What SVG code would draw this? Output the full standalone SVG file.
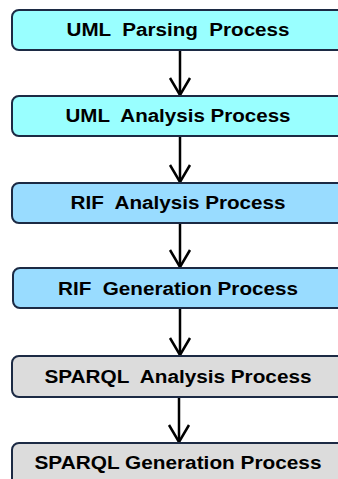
<svg xmlns="http://www.w3.org/2000/svg" width="338" height="479" viewBox="0 0 338 479">
<defs>
<style>
.box{stroke:#1c2a44;stroke-width:2}
.c{fill:#99ffff}
.b{fill:#99dcff}
.g{fill:#dcdcdc}
.t{font-family:"Liberation Sans",Arial,sans-serif;font-weight:bold;font-size:18px;fill:#000;text-anchor:middle;white-space:pre}
.arr{stroke:#000;stroke-width:2.5;fill:none}
</style>
<marker id="ah" markerUnits="userSpaceOnUse" markerWidth="22" markerHeight="24" refX="19" refY="12" orient="auto" viewBox="0 0 22 24">
<path d="M2,2 L19,12 L2,22" fill="none" stroke="#000" stroke-width="2.5"/>
</marker>
</defs>
<rect width="338" height="479" fill="#fff"/>
<g id="connectors">
<line class="arr" x1="180" y1="50" x2="180" y2="95" marker-end="url(#ah)"/>
<line class="arr" x1="180" y1="136" x2="180" y2="182" marker-end="url(#ah)"/>
<line class="arr" x1="180" y1="223" x2="180" y2="267" marker-end="url(#ah)"/>
<line class="arr" x1="180" y1="308" x2="180" y2="355" marker-end="url(#ah)"/>
<line class="arr" x1="179" y1="397" x2="179" y2="442" marker-end="url(#ah)"/>
</g>
<g id="n1"><rect class="box c" x="12" y="10" width="340" height="40" rx="7"/><text class="t" x="178" y="36" textLength="223" lengthAdjust="spacingAndGlyphs">UML  Parsing  Process</text></g>
<g id="n2"><rect class="box c" x="12" y="96" width="340" height="40" rx="7"/><text class="t" x="178" y="122" textLength="225" lengthAdjust="spacingAndGlyphs">UML  Analysis Process</text></g>
<g id="n3"><rect class="box b" x="12" y="183" width="340" height="40" rx="7"/><text class="t" x="178" y="209" textLength="215" lengthAdjust="spacingAndGlyphs">RIF  Analysis Process</text></g>
<g id="n4"><rect class="box b" x="13" y="268" width="340" height="40" rx="7"/><text class="t" x="178" y="295" textLength="240" lengthAdjust="spacingAndGlyphs">RIF  Generation Process</text></g>
<g id="n5"><rect class="box g" x="12" y="356" width="340" height="41" rx="7"/><text class="t" x="178" y="383" textLength="267" lengthAdjust="spacingAndGlyphs">SPARQL  Analysis Process</text></g>
<g id="n6"><rect class="box g" x="12" y="443" width="340" height="45" rx="7"/><text class="t" x="178" y="469" textLength="287" lengthAdjust="spacingAndGlyphs">SPARQL Generation Process</text></g>
</svg>
